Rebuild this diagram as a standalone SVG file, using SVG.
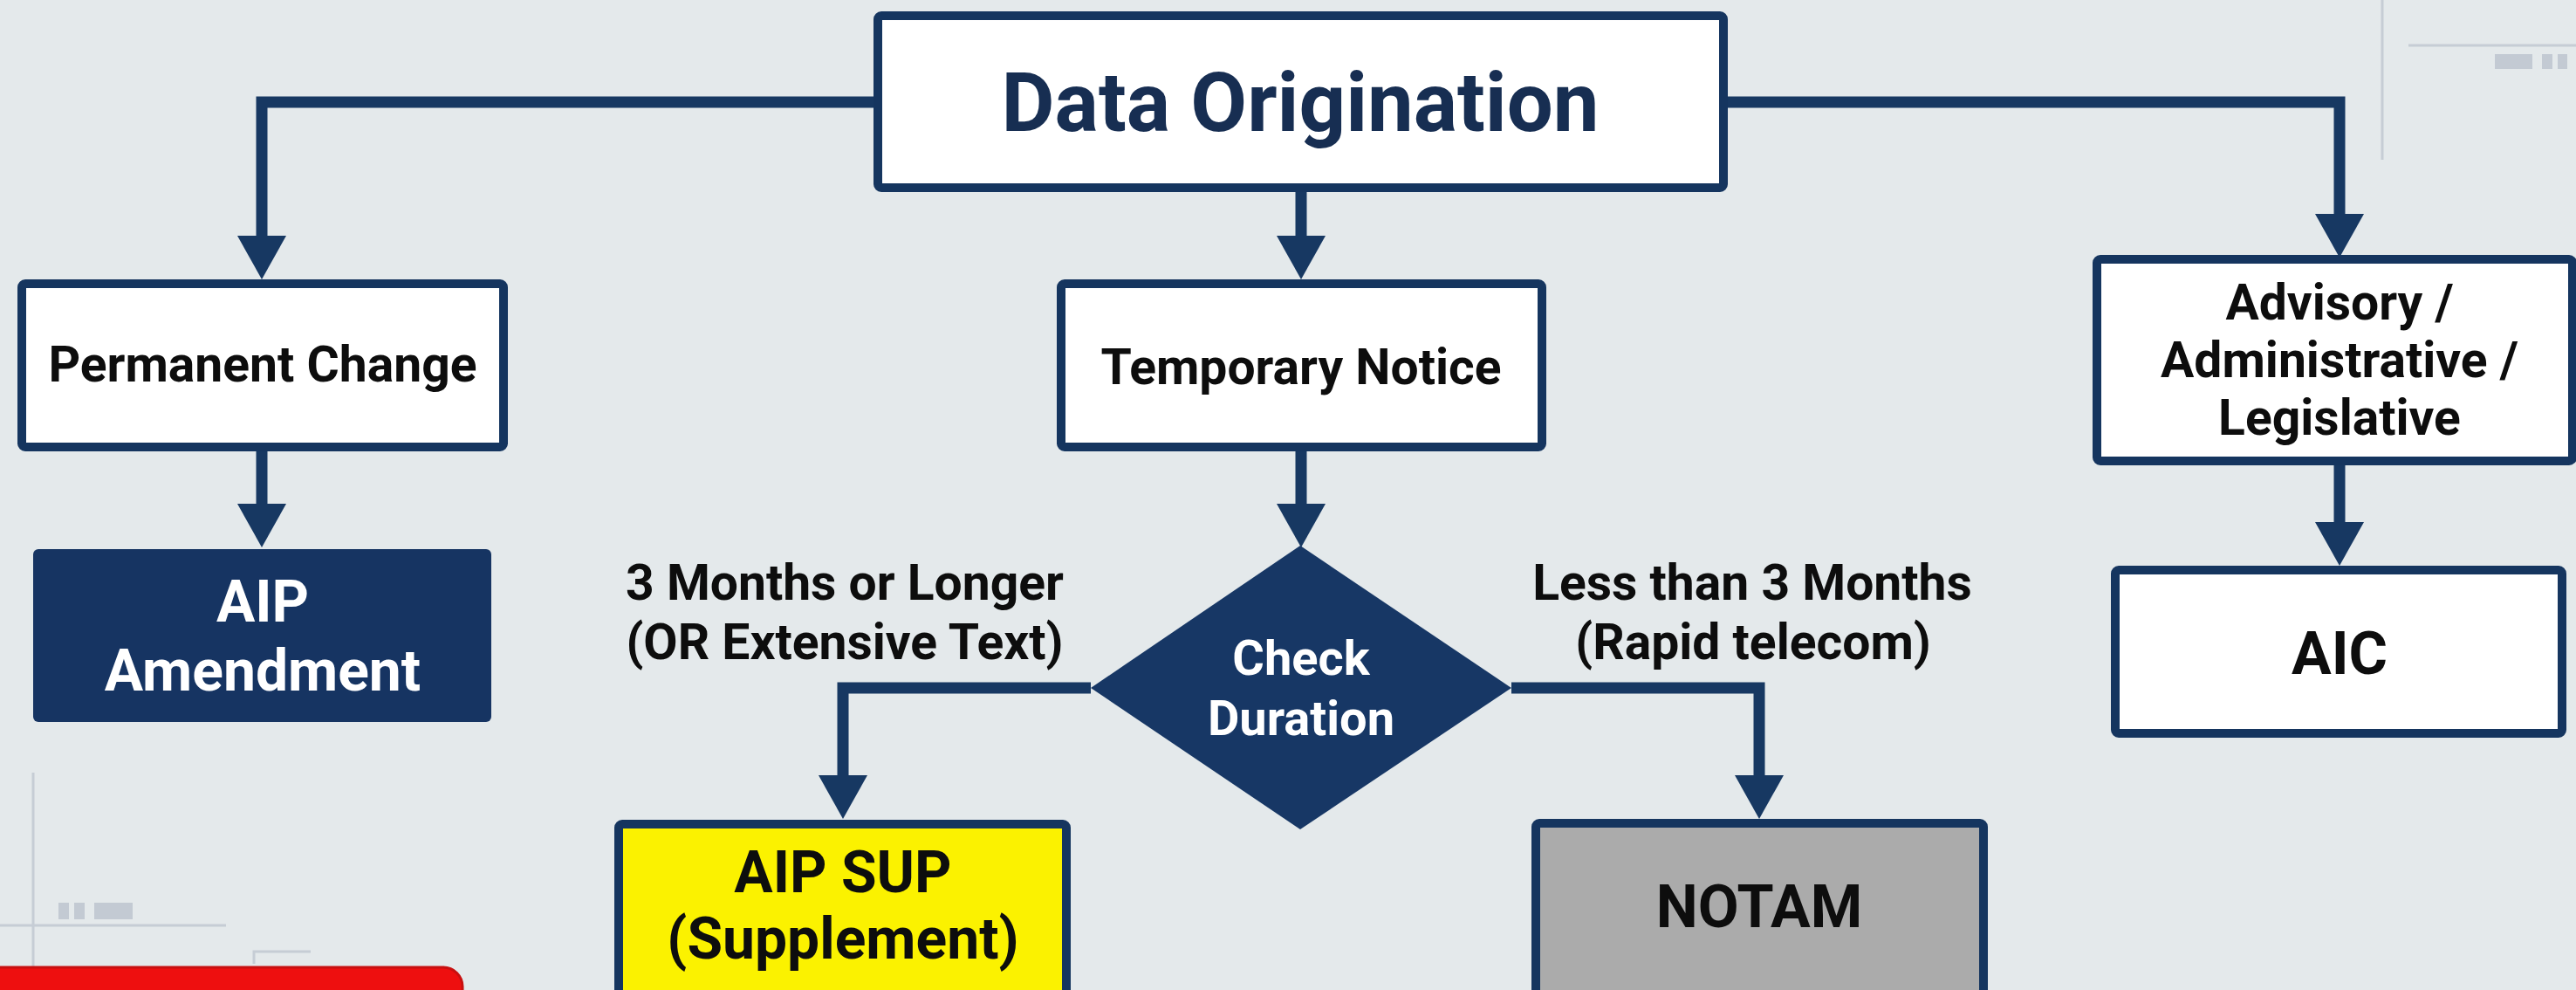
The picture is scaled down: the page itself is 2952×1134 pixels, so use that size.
<svg xmlns="http://www.w3.org/2000/svg" width="2952" height="1134" viewBox="0 0 2952 1134">
<defs>
<style>
.box{fill:#ffffff;stroke:#15355f;stroke-width:10}
.t{font-family:Roboto,"Liberation Sans",sans-serif;font-weight:bold;text-anchor:middle;fill:#0d0d0d}
.w{fill:#ffffff}
.conn{fill:none;stroke:#173862;stroke-width:13;stroke-linejoin:miter}
.deco{stroke:#c6cdd5;stroke-width:3;fill:none}
.decor{fill:#c3cad3}
</style>
<marker id="arr" viewBox="0 0 50 56" refX="0" refY="28" markerWidth="50" markerHeight="56" markerUnits="userSpaceOnUse" orient="auto">
<path d="M0,0 L50,28 L0,56 Z" fill="#173862"/>
</marker>
</defs>
<rect x="0" y="0" width="2952" height="1134" fill="#e4e9eb"/>
<g id="decorations">
<line class="deco" x1="2730" y1="0" x2="2730" y2="183"/>
<line class="deco" x1="2760" y1="52" x2="2952" y2="52"/>
<rect class="decor" x="2859" y="62" width="43" height="17"/>
<rect class="decor" x="2913" y="62" width="12" height="17"/>
<rect class="decor" x="2931" y="62" width="11" height="17"/>
<line class="deco" x1="38" y1="885" x2="38" y2="1108"/>
<line class="deco" x1="0" y1="1060" x2="259" y2="1060"/>
<rect class="decor" x="67" y="1034" width="12" height="19"/>
<rect class="decor" x="85" y="1034" width="12" height="19"/>
<rect class="decor" x="108" y="1034" width="44" height="19"/>
<path class="deco" d="M291,1104 V1090 H356"/>
<rect x="-30" y="1108" width="560" height="60" rx="22" fill="#ee0f0f" stroke="#c81010" stroke-width="3"/>
</g>
<g id="connectors">
<path class="conn" d="M1003,117 H300 V270" marker-end="url(#arr)"/>
<path class="conn" d="M1491,217 V270" marker-end="url(#arr)"/>
<path class="conn" d="M1977,117 H2681 V245" marker-end="url(#arr)"/>
<path class="conn" d="M300,517 V577" marker-end="url(#arr)"/>
<path class="conn" d="M1491,517 V577" marker-end="url(#arr)"/>
<path class="conn" d="M1250,788 H966 V888" marker-end="url(#arr)"/>
<path class="conn" d="M1732,788 H2016 V888" marker-end="url(#arr)"/>
<path class="conn" d="M2681,533 V598" marker-end="url(#arr)"/>
</g>
<g id="data-origination">
<rect class="box" x="1006" y="18" width="969" height="197" rx="4"/>
<text class="t" x="1490" y="150" font-size="94" fill="#172e52" style="fill:#172e52">Data Origination</text>
</g>
<g id="permanent-change">
<rect class="box" x="25" y="325" width="552" height="187" rx="4"/>
<text class="t" x="301" y="437" font-size="57">Permanent Change</text>
</g>
<g id="temporary-notice">
<rect class="box" x="1216" y="325" width="551" height="187" rx="4"/>
<text class="t" x="1491" y="440" font-size="57">Temporary Notice</text>
</g>
<g id="advisory">
<rect class="box" x="2403" y="297" width="545" height="231" rx="4"/>
<text class="t" x="2681" y="366" font-size="57">Advisory /</text>
<text class="t" x="2681" y="432" font-size="57">Administrative /</text>
<text class="t" x="2681" y="498" font-size="57">Legislative</text>
</g>
<g id="aip-amendment">
<rect x="38" y="629" width="525" height="198" rx="6" fill="#163462"/>
<text class="t w" x="301" y="712" font-size="66" style="fill:#ffffff">AIP</text>
<text class="t w" x="301" y="791" font-size="66" style="fill:#ffffff">Amendment</text>
</g>
<g id="check-duration">
<polygon points="1250,788 1490,625 1732,788 1490,950" fill="#173765"/>
<text class="t w" x="1491" y="773" font-size="56" style="fill:#ffffff">Check</text>
<text class="t w" x="1491" y="842" font-size="56" style="fill:#ffffff">Duration</text>
</g>
<g id="label-left">
<text class="t" x="968" y="687" font-size="57">3 Months or Longer</text>
<text class="t" x="968" y="755" font-size="57">(OR Extensive Text)</text>
</g>
<g id="label-right">
<text class="t" x="2008" y="687" font-size="57">Less than 3 Months</text>
<text class="t" x="2009" y="755" font-size="57">(Rapid telecom)</text>
</g>
<g id="aic">
<rect class="box" x="2424" y="653" width="512" height="187" rx="4"/>
<text class="t" x="2681" y="772" font-size="68">AIC</text>
</g>
<g id="aip-sup">
<rect class="box" x="709" y="944" width="513" height="250" rx="4" style="fill:#fbf200"/>
<text class="t" x="966" y="1022" font-size="66">AIP SUP</text>
<text class="t" x="966" y="1098" font-size="66">(Supplement)</text>
</g>
<g id="notam">
<rect class="box" x="1760" y="943" width="513" height="250" rx="4" style="fill:#ababab"/>
<text class="t" x="2016" y="1062" font-size="68">NOTAM</text>
</g>
</svg>
